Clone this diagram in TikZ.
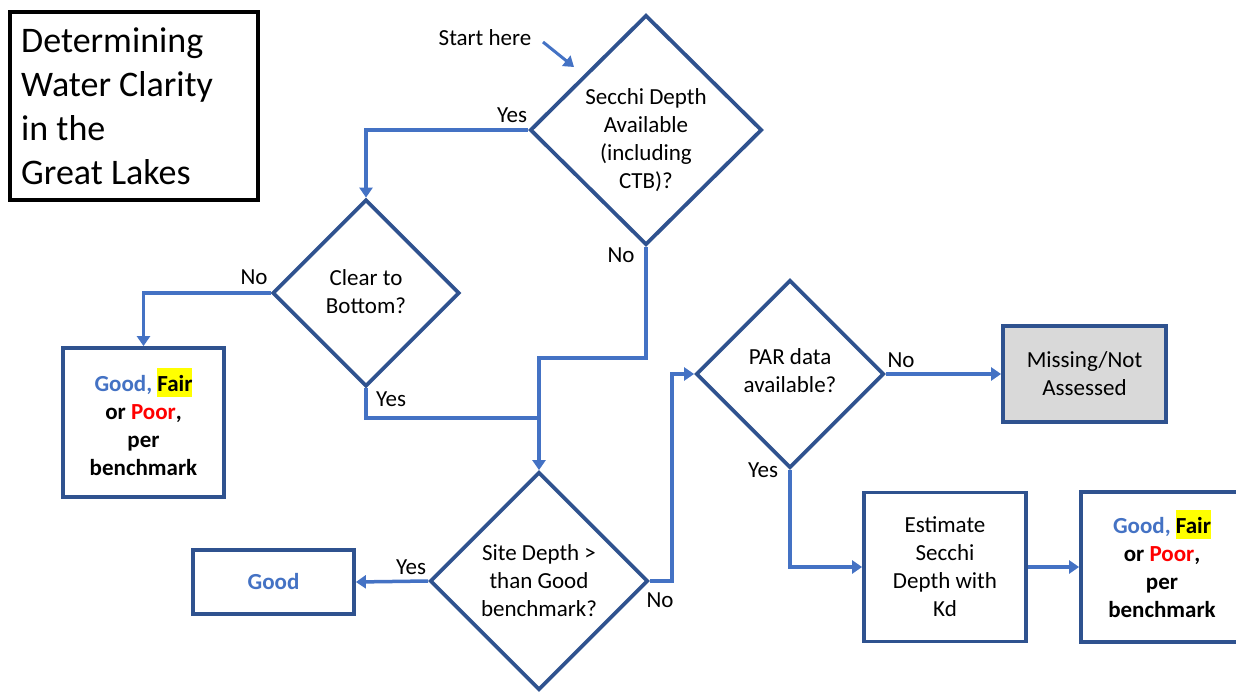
\documentclass[tikz,border=0pt]{standalone}
\usepackage{fontspec}
\setmainfont{Carlito}
\usetikzlibrary{arrows.meta,shapes.geometric}
\definecolor{connblue}{HTML}{4472C4}
\definecolor{bordblue}{HTML}{2F528F}
\definecolor{goodblue}{HTML}{4472C4}
\definecolor{grayfill}{HTML}{D9D9D9}
\definecolor{hlyellow}{HTML}{FFFF00}
\definecolor{poorred}{HTML}{FF0000}
\newcommand{\gfp}{\textcolor{goodblue}{Good,} \smash{\setlength{\fboxsep}{0pt}\colorbox{hlyellow}{\rule[-5pt]{0pt}{29pt}Fair}}\\ or \textcolor{poorred}{Poor},\\ per\\ benchmark}
\begin{document}
\begin{tikzpicture}[x=1pt,y=-1pt,
  body/.style={font=\fontsize{23}{28}\selectfont, align=center, inner sep=0pt},
  boldbody/.style={font=\fontsize{23}{28}\selectfont\bfseries, align=center, inner sep=0pt},
  dia/.style={diamond, draw=bordblue, line width=3.8pt, inner sep=0pt, fill=white},
  box/.style={rectangle, draw=bordblue, line width=3.8pt, inner sep=0pt, fill=white},
  arrowline/.style={draw=connblue, line width=3.5pt, -{Triangle[length=10pt,width=13pt]}},
  plainline/.style={draw=connblue, line width=3.5pt},
  lab/.style={font=\fontsize{23}{28}\selectfont, inner sep=0pt}]
\useasboundingbox (0,0) rectangle (1236,692);

% title
\node[rectangle, draw=black, line width=4pt, minimum width=248pt, minimum height=188pt, inner sep=0pt] (title) at (134,106) {};
\node[font=\fontsize{36}{44}\selectfont, align=left, inner sep=0pt, anchor=west] (titletext) at (21,106) {Determining\\Water Clarity\\in the\\Great Lakes};

% diamonds
\node[dia, minimum width=232pt, minimum height=230pt] (d1) at (646,130) {};
\node[body] (d1t) at (646,140) {Secchi Depth\\Available\\(including\\CTB)?};
\node[dia, minimum width=187pt, minimum height=187pt] (d2) at (366,293) {};
\node[body] (d2t) at (366,292) {Clear to\\Bottom?};
\node[dia, minimum width=218pt, minimum height=218pt] (d3) at (539,581) {};
\node[body] (d3t) at (539,581) {Site Depth >\\than Good\\benchmark?};
\node[dia, minimum width=188pt, minimum height=188pt] (d4) at (790,374) {};
\node[body] (d4t) at (790,371) {PAR data\\available?};

% boxes
\node[box, minimum width=161pt, minimum height=149pt] (b1) at (143.5,422.5) {};
\node[boldbody] (b1t) at (143.5,426) {\gfp};
\node[box, minimum width=161pt, minimum height=64pt, boldbody, text=goodblue] (bgood) at (273.5,582) {Good};
\node[box, minimum width=163pt, minimum height=96pt, body, fill=grayfill] (bmiss) at (1084.5,374) {Missing/Not\\Assessed};
\node[box, minimum width=162pt, minimum height=149pt, body] (best) at (945,567) {Estimate\\Secchi\\Depth with\\Kd};
\node[box, minimum width=161pt, minimum height=150pt] (b2) at (1161.5,567) {};
\node[boldbody] (b2t) at (1162,568) {\gfp};

% junction coordinates
\coordinate (j1) at (539,358);
\coordinate (j2) at (539,418);
\coordinate (j3) at (672,581);

% connectors
\draw[arrowline] (d1.west) -| (d2.north);
\draw[arrowline] (d1.south) |- (j1) -- (d3.north);
\draw[plainline] (d2.south) |- (j2);
\draw[arrowline] (d2.west) -| (b1.north);
\draw[arrowline] (d3.west) -- (bgood.east);
\draw[arrowline] (d3.east) -- (j3) |- (d4.west);
\draw[arrowline] (d4.east) -- (bmiss.west);
\draw[arrowline] (d4.south) |- (best.west);
\draw[arrowline] (best.east) -- (b2.west);

% start
\node[lab] (start) at (485,38) {Start here};
\coordinate (sa) at (543,42);
\coordinate (se) at (574,67);
\draw[arrowline, line width=3pt] (sa) -- (se);

% labels
\node[lab] (y1) at (512,115) {Yes};
\node[lab] (n1) at (621,255) {No};
\node[lab] (n2) at (254,277) {No};
\node[lab] (y2) at (391,399) {Yes};
\node[lab] (y3) at (411,567) {Yes};
\node[lab] (n3) at (660,600) {No};
\node[lab] (n4) at (901,360) {No};
\node[lab] (y4) at (763,470) {Yes};
\end{tikzpicture}
\end{document}
